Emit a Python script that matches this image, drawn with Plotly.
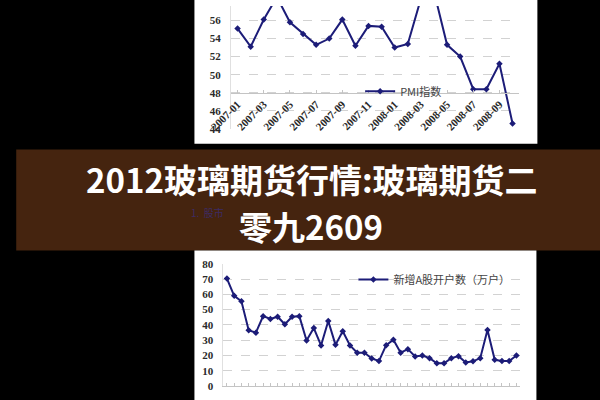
import plotly.graph_objects as go

# ---------------- data ----------------
pmi_months = ["2007-01", "2007-02", "2007-03", "2007-04", "2007-05", "2007-06",
              "2007-07", "2007-08", "2007-09", "2007-10", "2007-11", "2007-12",
              "2008-01", "2008-02", "2008-03", "2008-04", "2008-05", "2008-06",
              "2008-07", "2008-08", "2008-09", "2008-10"]
pmi_values = [55.1, 53.1, 56.1, 58.6, 55.8, 54.5, 53.3, 54.0, 56.1, 53.2, 55.4,
              55.3, 53.0, 53.4, 58.4, 59.2, 53.3, 52.0, 48.4, 48.4, 51.2, 44.6]
pmi_tick_labels = pmi_months[::2]

account_index = list(range(1, 42))
account_values = [70.3, 59.0, 55.4, 36.4, 34.9, 45.7, 43.8, 45.3, 40.4, 45.3,
                  45.7, 29.8, 37.9, 26.5, 42.5, 26.9, 35.8, 26.5, 21.8, 21.8,
                  18.0, 16.3, 26.7, 30.3, 21.8, 24.1, 19.3, 19.9, 18.2, 14.8,
                  14.8, 18.2, 19.5, 15.4, 16.1, 18.2, 36.6, 17.1, 16.3, 16.3, 19.9]

title_line1 = "2012玻璃期货行情:玻璃期货二"
title_line2 = "零九2609"
pmi_name = "PMI指数"
account_name = "新增A股开户数（万户）"
faint_caption = "1.  股市"

# ---------------- layout geometry ----------------
W, H = 600, 400
NAVY = "#1c1c78"
GRID = "#d2d2d2"
AXIS = "#c4c4c4"
TICKFONT = dict(family="Liberation Serif", size=11, color="#2a2a2a", weight="bold")

def px_x(v):
    return v / W

def px_y(v):
    return 1 - v / H

top_range = [44, 57.6]
top_dom_y = [px_y(126.7), 1.0]
top_dom_x = [px_x(217), px_x(516)]
cross_value = 48
top_axis_pos = top_dom_y[0] + (cross_value - top_range[0]) / (top_range[1] - top_range[0]) * (top_dom_y[1] - top_dom_y[0])

bot_dom_y = [px_y(391.7), px_y(265.7)]
bot_dom_x = [px_x(209), px_x(517)]

fig = go.Figure()

fig.add_trace(go.Scatter(
    x=pmi_months, y=pmi_values, mode="lines+markers", name=pmi_name,
    line=dict(color=NAVY, width=2),
    marker=dict(symbol="diamond", size=5, color=NAVY),
    xaxis="x", yaxis="y", legend="legend", showlegend=True,
))

fig.add_trace(go.Scatter(
    x=account_index, y=account_values, mode="lines+markers", name=account_name,
    line=dict(color=NAVY, width=2),
    marker=dict(symbol="diamond", size=5, color=NAVY),
    xaxis="x2", yaxis="y2", legend="legend2", showlegend=True,
))

legend_common = dict(
    xanchor="left", yanchor="middle", bgcolor="rgba(0,0,0,0)", itemwidth=30,
    font=dict(family="Noto Sans CJK SC", size=11, color="#444444"),
    visible=True,
)

title_font = dict(family="Noto Sans CJK SC", size=33, color="white", weight="bold")

fig.update_layout(
    width=W, height=H, autosize=False, showlegend=True,
    margin=dict(l=0, r=0, t=0, b=0, pad=0),
    paper_bgcolor="black", plot_bgcolor="white",
    xaxis=dict(
        domain=top_dom_x, type="category", range=[-0.5, len(pmi_months) - 0.5],
        anchor="free", position=top_axis_pos,
        showline=True, linecolor=AXIS, linewidth=1,
        showgrid=False, zeroline=False,
        tickmode="array", tickvals=pmi_tick_labels, ticktext=pmi_tick_labels,
        tickangle=-45, ticks="inside", ticklen=3, tickcolor=AXIS,
        tickfont=dict(family="Liberation Serif", size=11, color="#2a2a2a", weight="bold"),
    ),
    yaxis=dict(
        domain=top_dom_y, range=top_range, anchor="x",
        tick0=44, dtick=2,
        showline=True, linecolor="#e0e0e0",
        showgrid=True, gridcolor=GRID, griddash="dash",
        zeroline=False, ticks="", tickfont=TICKFONT, ticklabelstandoff=7,
    ),
    xaxis2=dict(
        domain=bot_dom_x, range=[0.5, len(account_index) + 0.5], anchor="y2",
        showline=True, linecolor=AXIS, showgrid=False, zeroline=False,
        ticks="inside", ticklen=3, tickcolor=AXIS, dtick=1, showticklabels=False,
    ),
    yaxis2=dict(
        domain=bot_dom_y, range=[0, 80], anchor="x2",
        tick0=0, dtick=10,
        showline=True, linecolor="#e0e0e0",
        showgrid=True, gridcolor=GRID, griddash="dash",
        zeroline=False, ticks="", tickfont=TICKFONT, ticklabelstandoff=7,
    ),
    legend=dict(x=px_x(351), y=px_y(88), **legend_common),
    legend2=dict(x=px_x(344), y=px_y(282), **legend_common),
    shapes=[
        dict(type="rect", xref="paper", yref="paper", x0=px_x(179), x1=px_x(535),
             y0=px_y(142), y1=1.02, fillcolor="white", line=dict(width=0), layer="below"),
        dict(type="rect", xref="paper", yref="paper", x0=-0.01, x1=1.01,
             y0=px_y(252), y1=px_y(148), fillcolor="#45240f", line=dict(width=0), layer="below"),
        dict(type="rect", xref="paper", yref="paper", x0=px_x(179), x1=px_x(534),
             y0=-0.02, y1=px_y(252), fillcolor="white", line=dict(width=0), layer="below"),
    ],
    annotations=[
        dict(text=title_line1, xref="paper", yref="paper", x=0.502, y=px_y(178),
             xanchor="center", yanchor="middle", showarrow=False, font=title_font),
        dict(text=title_line2, xref="paper", yref="paper", x=0.5, y=px_y(227),
             xanchor="center", yanchor="middle", showarrow=False, font=title_font),
        dict(text=faint_caption, xref="paper", yref="paper", x=px_x(193), y=px_y(213),
             xanchor="center", yanchor="middle", showarrow=False,
             font=dict(family="Noto Sans CJK SC", size=10, color="#3d2b63")),
    ],
)

fig.write_html(
    "out.html",
    config={"displayModeBar": False},
    post_script="document.body.style.margin='0';document.body.style.overflow='hidden';document.body.style.background='black';",
)
